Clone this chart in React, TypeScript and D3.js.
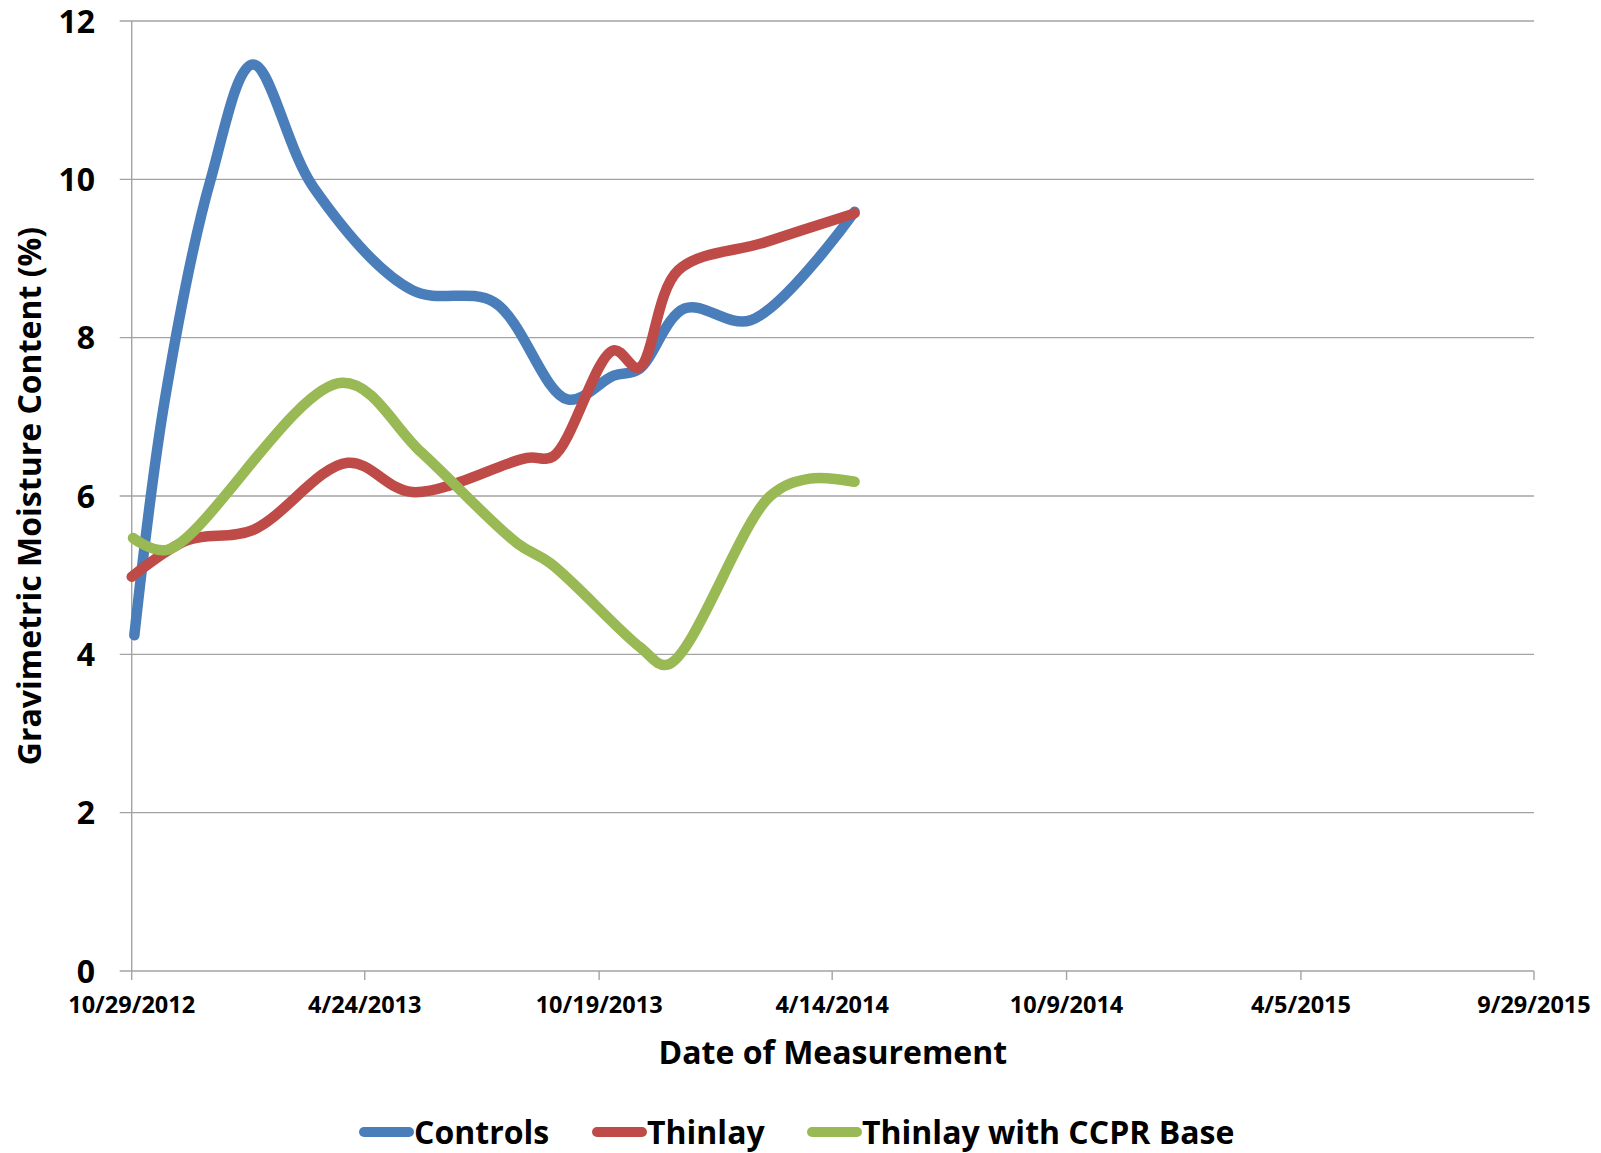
import * as d3 from 'd3';

const WIDTH = 1601;
const HEIGHT = 1153;

// x axis ticks (Excel date axis, major unit ~177.5 days)
const xTickDates = ['2012-10-29', '2013-04-24', '2013-10-19', '2014-04-14', '2014-10-09', '2015-04-05', '2015-09-29'];
const xTickLabels = ['10/29/2012', '4/24/2013', '10/19/2013', '4/14/2014', '10/9/2014', '4/5/2015', '9/29/2015'];
const yTicks = [0, 2, 4, 6, 8, 10, 12];

// series
const controlsDates = ['2012-10-31', '2012-11-23', '2012-12-28', '2013-01-29', '2013-03-16', '2013-05-30', '2013-07-31', '2013-09-25', '2013-10-30', '2013-11-18', '2013-12-23', '2014-02-11', '2014-05-01'];
const controlsValues = [4.24, 7.2, 10.0, 11.45, 9.9, 8.6, 8.45, 7.22, 7.52, 7.6, 8.37, 8.22, 9.59];

const thinlayDates = ['2012-10-29', '2012-12-10', '2013-01-29', '2013-04-11', '2013-05-30', '2013-08-25', '2013-09-14', '2013-10-30', '2013-11-18', '2013-12-18', '2014-02-21', '2014-05-01'];
const thinlayValues = [4.98, 5.44, 5.57, 6.42, 6.05, 6.48, 6.5, 7.84, 7.62, 8.85, 9.2, 9.57];

const ccprDates = ['2012-10-30', '2012-11-25', '2013-04-07', '2013-06-06', '2013-08-18', '2013-09-12', '2013-11-19', '2013-12-10', '2014-02-26', '2014-03-28', '2014-05-01'];
const ccprValues = [5.47, 5.32, 7.43, 6.55, 5.4, 5.15, 4.09, 3.87, 6.0, 6.22, 6.18];

const seriesNames = ['Controls', 'Thinlay', 'Thinlay with CCPR Base'];
const seriesColors = ['#4a7ebb', '#be4b48', '#98b954'];
const legendX = [364, 597, 812];

const parse = d3.timeParse('%Y-%m-%d');

export default function App() {
  const font = "'Open Sans', 'DejaVu Sans', sans-serif";
  const left = 131.7;
  const right = 1534;
  const top = 21;
  const bottom = 971;

  const x = d3.scaleTime()
    .domain([parse('2012-10-29') as Date, parse('2015-09-29') as Date])
    .range([left, right]);
  const y = d3.scaleLinear().domain([0, 12]).range([bottom, top]);

  // smoothed lines like Excel's "smoothed line" option
  const line = d3.line<[Date, number]>()
    .x(d => x(d[0]))
    .y(d => y(d[1]))
    .curve(d3.curveCatmullRom.alpha(0.5));

  const series = [
    d3.zip(controlsDates, controlsValues),
    d3.zip(thinlayDates, thinlayValues),
    d3.zip(ccprDates, ccprValues),
  ].map(s => s.map(([d, v]) => [parse(d as string) as Date, v as number] as [Date, number]));

  const grid = '#a3a3a3';

  return (
    <svg width={WIDTH} height={HEIGHT} style={{ position: 'absolute', left: 0, top: 0, background: '#fff' }}>
      <rect width={WIDTH} height={HEIGHT} fill="#fff" />
      {/* horizontal gridlines + y ticks */}
      {yTicks.map(t => (
        <g key={t}>
          <line x1={left - 12} x2={right} y1={y(t)} y2={y(t)} stroke={grid} strokeWidth={1.4} />
          <text x={95} y={y(t)} dy="0.36em" textAnchor="end" fontFamily={font} fontWeight={700} fontSize={32} fill="#000">{t}</text>
        </g>
      ))}
      {/* y axis line */}
      <line x1={left} x2={left} y1={top} y2={bottom} stroke={grid} strokeWidth={1.4} />
      {/* x ticks */}
      {xTickDates.map((d, i) => {
        const xx = x(parse(d) as Date);
        return (
          <g key={d}>
            <line x1={xx} x2={xx} y1={bottom} y2={bottom + 9} stroke={grid} strokeWidth={1.4} />
            <text x={xx} y={1005} dy="0.36em" textAnchor="middle" fontFamily={font} fontWeight={700} fontSize={23.5} fill="#000">{xTickLabels[i]}</text>
          </g>
        );
      })}

      {/* series */}
      {series.map((s, i) => (
        <path key={seriesNames[i]} d={line(s) ?? ''} fill="none" stroke={seriesColors[i]} strokeWidth={10.5} strokeLinecap="round" strokeLinejoin="round" />
      ))}

      {/* axis titles */}
      <text x={(left + right) / 2} y={1052} dy="0.36em" textAnchor="middle" fontFamily={font} fontWeight={700} fontSize={32} fill="#000">Date of Measurement</text>
      <text transform={`translate(29, 496) rotate(-90)`} dy="0.36em" textAnchor="middle" fontFamily={font} fontWeight={700} fontSize={32} fill="#000">Gravimetric Moisture Content (%)</text>

      {/* legend */}
      {seriesNames.map((n, i) => (
        <g key={n}>
          <line x1={legendX[i]} x2={legendX[i] + 45} y1={1132} y2={1132} stroke={seriesColors[i]} strokeWidth={10} strokeLinecap="round" />
          <text x={legendX[i] + 50} y={1144} fontFamily={font} fontWeight={700} fontSize={32} fill="#000">{n}</text>
        </g>
      ))}
    </svg>
  );
}
